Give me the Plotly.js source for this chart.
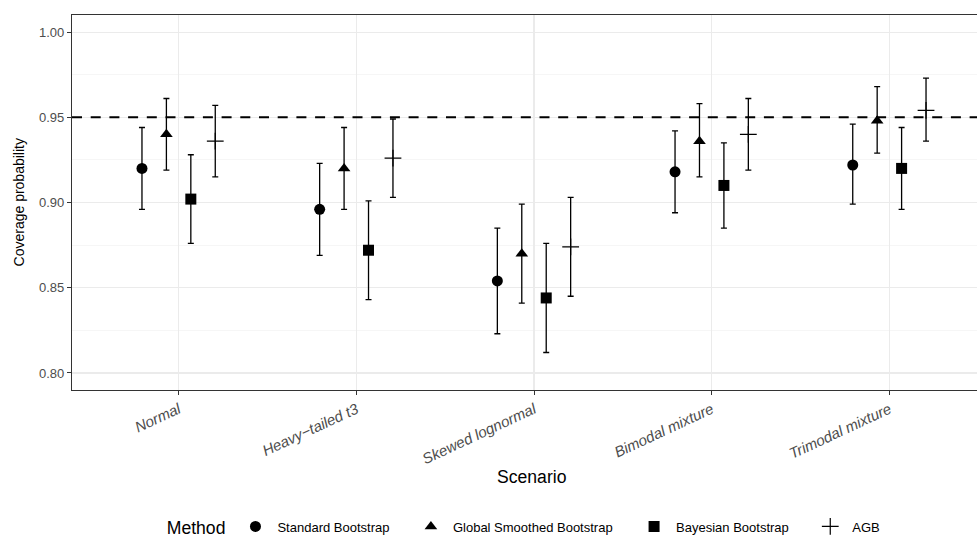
<!DOCTYPE html>
<html>
<head>
<meta charset="utf-8">
<script src="https://cdn.plot.ly/plotly-3.0.1.min.js"></script>
<style>
html, body { margin: 0; padding: 0; background: #ffffff; overflow: hidden; }
#wrap { width: 977px; height: 538px; overflow: hidden; position: relative; }
#chart { width: 1000px; height: 538px; }
</style>
</head>
<body>
<div id="wrap"><div id="chart"></div></div>
<script>
// ---- data ----
const scenarios = ["Normal", "Heavy\u2212tailed t3", "Skewed lognormal", "Bimodal mixture", "Trimodal mixture"];
const methods = ["Standard Bootstrap", "Global Smoothed Bootstrap", "Bayesian Bootstrap", "AGB"];

const stdCov = [0.920, 0.896, 0.854, 0.918, 0.922];
const stdLow = [0.896, 0.869, 0.823, 0.894, 0.899];
const stdHigh = [0.944, 0.923, 0.885, 0.942, 0.946];

const gsbCov = [0.940, 0.920, 0.870, 0.936, 0.948];
const gsbLow = [0.919, 0.896, 0.841, 0.915, 0.929];
const gsbHigh = [0.961, 0.944, 0.899, 0.958, 0.968];

const bbCov = [0.902, 0.872, 0.844, 0.910, 0.920];
const bbLow = [0.876, 0.843, 0.812, 0.885, 0.896];
const bbHigh = [0.928, 0.901, 0.876, 0.935, 0.944];

const agbCov = [0.936, 0.926, 0.874, 0.940, 0.954];
const agbLow = [0.915, 0.903, 0.845, 0.919, 0.936];
const agbHigh = [0.957, 0.949, 0.903, 0.961, 0.973];

const nominal = 0.95;
const yTicks = [0.80, 0.85, 0.90, 0.95, 1.00];

// ---- styling ----
const FONT = "Liberation Sans, Arial, Helvetica, sans-serif";
const dodgeWidth = 0.55;
const symbols = ["circle", "triangle-up", "square", "cross-thin-open"];
const sizes = [11, 11, 11, 12];
const legendPad = "\u00A0\u00A0\u00A0\u00A0";

const series = [
  [stdCov, stdLow, stdHigh],
  [gsbCov, gsbLow, gsbHigh],
  [bbCov, bbLow, bbHigh],
  [agbCov, agbLow, agbHigh]
];

const nM = methods.length;
const traces = series.map((s, j) => {
  const off = dodgeWidth * ((j + 0.5) / nM - 0.5);
  const [cov, lo, hi] = s;
  return {
    type: "scatter",
    mode: "markers",
    name: methods[j] + (j < nM - 1 ? legendPad : ""),
    x: scenarios.map((_, i) => i + off),
    y: cov,
    error_y: {
      type: "data",
      symmetric: false,
      array: cov.map((v, i) => hi[i] - v),
      arrayminus: cov.map((v, i) => v - lo[i]),
      color: "#000000",
      thickness: 1.3,
      width: 3
    },
    marker: {
      symbol: symbols[j],
      size: sizes[j],
      color: "#000000",
      line: { color: "#000000", width: j === 3 ? 1.2 : 0 }
    },
    hoverinfo: "skip"
  };
});

const layout = {
  width: 1000,
  height: 538,
  margin: { l: 72, r: 4, t: 15, b: 148, autoexpand: false },
  paper_bgcolor: "#ffffff",
  plot_bgcolor: "#ffffff",
  font: { family: FONT, color: "#000000", size: 13 },
  showlegend: true,
  xaxis: {
    range: [-0.6, scenarios.length - 0.4],
    tickmode: "array",
    tickvals: scenarios.map((_, i) => i),
    ticktext: scenarios,
    tickangle: -25,
    tickfont: { family: FONT, size: 15, color: "#4D4D4D", style: "italic" },
    ticks: "outside",
    ticklen: 4,
    tickwidth: 1,
    tickcolor: "#333333",
    showgrid: true,
    gridcolor: "#EBEBEB",
    gridwidth: 1.1,
    zeroline: false,
    showline: true,
    linecolor: "#333333",
    linewidth: 1.1,
    mirror: true,
    automargin: false
  },
  yaxis: {
    range: [0.79, 1.01],
    tickmode: "array",
    tickvals: yTicks,
    ticktext: yTicks.map(v => v.toFixed(2)),
    tickfont: { family: FONT, size: 13, color: "#4D4D4D" },
    ticks: "outside",
    ticklen: 4,
    tickwidth: 1,
    tickcolor: "#333333",
    showgrid: true,
    gridcolor: "#EBEBEB",
    gridwidth: 1.1,
    minor: { tickmode: "linear", tick0: 0.775, dtick: 0.05, showgrid: true, gridcolor: "#F2F2F2", gridwidth: 0.7, ticks: "" },
    zeroline: false,
    showline: true,
    linecolor: "#333333",
    linewidth: 1.1,
    mirror: true,
    automargin: false
  },
  shapes: [{
    type: "line",
    xref: "paper", yref: "y",
    x0: 0, x1: 1, y0: nominal, y1: nominal,
    line: { color: "#000000", width: 1.8, dash: "10px,8.7px" }
  }],
  annotations: [
    {
      text: "Scenario", xref: "paper", yref: "paper",
      x: 0.4975, y: -0.232, xanchor: "center", yanchor: "middle",
      showarrow: false, font: { family: FONT, size: 17.6, color: "#000000" }
    },
    {
      text: "Coverage probability", xref: "paper", yref: "paper",
      x: -0.0574, y: 0.5, xanchor: "center", yanchor: "middle", textangle: -90,
      showarrow: false, font: { family: FONT, size: 14, color: "#000000" }
    }
  ],
  legend: {
    orientation: "h",
    x: 0.49, xanchor: "center",
    y: -0.368, yanchor: "middle",
    itemwidth: 34,
    title: { text: "Method", side: "left", font: { family: FONT, size: 17.6, color: "#000000" } },
    font: { family: FONT, size: 13, color: "#000000" },
    itemsizing: "trace",
    bgcolor: "rgba(0,0,0,0)"
  }
};

Plotly.newPlot("chart", traces, layout, { displayModeBar: false, staticPlot: true });
</script>
</body>
</html>
